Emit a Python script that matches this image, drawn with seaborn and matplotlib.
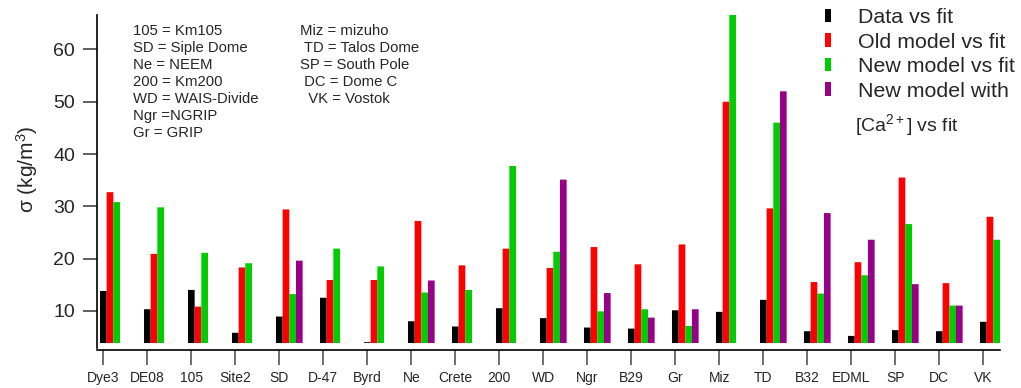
import matplotlib
matplotlib.use("Agg")
import matplotlib.pyplot as plt
import seaborn as sns
import pandas as pd
import numpy as np

nan = np.nan
sites = ["Dye3", "DE08", "105", "Site2", "SD", "D-47", "Byrd", "Ne", "Crete", "200", "WD",
         "Ngr", "B29", "Gr", "Miz", "TD", "B32", "EDML", "SP", "DC", "VK"]
data_vs_fit = [13.8, 10.3, 14.0, 5.8, 8.9, 12.5, 4.0, 8.0, 7.0, 10.5, 8.6,
               6.8, 6.6, 10.1, 9.8, 12.1, 6.1, 5.2, 6.3, 6.1, 7.9]
old_model = [32.7, 20.9, 10.8, 18.3, 29.4, 15.9, 15.9, 27.2, 18.7, 21.9, 18.2,
             22.2, 18.9, 22.7, 50.0, 29.6, 15.5, 19.3, 35.5, 15.3, 28.0]
new_model = [30.8, 29.8, 21.1, 19.1, 13.2, 21.9, 18.5, 13.5, 14.0, 37.7, 21.3,
             9.9, 10.3, 7.1, 66.6, 46.0, 13.3, 16.8, 26.6, 11.0, 23.6]
new_model_ca = [nan, nan, nan, nan, 19.6, nan, nan, 15.8, nan, nan, 35.1,
                13.4, 8.7, 10.3, nan, 52.0, 28.7, 23.6, 15.1, 11.0, 23.0]

series_names = ["Data vs fit", "Old model vs fit", "New model vs fit", "New model with"]
series_colors = ["#000000", "#FF0000", "#00CC00", "#990088"]

abbrev_left = ["105 = Km105", "SD = Siple Dome", "Ne = NEEM", "200 = Km200",
               "WD = WAIS-Divide", "Ngr =NGRIP", "Gr = GRIP"]
abbrev_right = ["Miz = mizuho", " TD = Talos Dome", "SP = South Pole", " DC = Dome C", "  VK = Vostok"]

rows = []
for name, vals in zip(series_names, [data_vs_fit, old_model, new_model, new_model_ca]):
    for s, v in zip(sites, vals):
        if not np.isnan(v):
            rows.append({"site": s, "series": name, "value": v})
df = pd.DataFrame(rows)

sns.set_style("ticks")
plt.rcParams["font.family"] = ["Liberation Sans", "DejaVu Sans"]
plt.rcParams["mathtext.fontset"] = "custom"
plt.rcParams["mathtext.rm"] = "Liberation Sans"
plt.rcParams["mathtext.it"] = "Liberation Sans"

W, H = 1021, 388
fig = plt.figure(figsize=(W / 100, H / 100), dpi=100)
ax = fig.add_axes([97.3 / W, 1 - 342.7 / H, (1000 - 97.3) / W, (342.7 - 15) / H])

total_w = 0.606
sns.barplot(data=df, x="site", y="value", hue="series", order=sites,
            hue_order=series_names, palette=series_colors, saturation=1,
            width=total_w, dodge=True, linewidth=0, edgecolor="none", ax=ax)
for p in ax.patches:
    p.set_snap(False)

bw = total_w / 4
ax.set_xticks(np.arange(len(sites)) - 1.5 * bw)
ax.set_xticklabels(sites, fontsize=12)
ax.set_xlim(-0.364, 20.152)
ax.set_ylim(3.9, 66.6)
ax.set_yticks([10, 20, 30, 40, 50, 60])
ax.tick_params(axis="y", labelsize=14, length=10, width=1.2, color="#444444", pad=6)
ax.tick_params(axis="x", length=10.5, width=1.2, color="#555555", pad=5)
ax.set_xlabel("")
ax.set_ylabel("")

for sp in ["top", "right"]:
    ax.spines[sp].set_visible(False)
ax.spines["bottom"].set_position(("outward", 5))
ax.spines["left"].set_bounds(2.94, 66.6)
for sp in ["bottom", "left"]:
    ax.spines[sp].set_linewidth(1.2)
    ax.spines[sp].set_color("black")

fig.text(27 / W, 1 - 169 / H, r"σ (kg/m$^{3}$)", rotation=90, fontsize=15,
         ha="center", va="center")

ys = [30.7, 48, 65, 82, 99.3, 116.3, 133.3]
for t, y in zip(abbrev_left, ys):
    fig.text(133.3 / W, 1 - y / H, t, fontsize=10.7, ha="left", va="center")
for t, y in zip(abbrev_right, ys):
    fig.text(299.5 / W, 1 - y / H, t, fontsize=10.7, ha="left", va="center")

handles, labels = ax.get_legend_handles_labels()
if ax.get_legend() is not None:
    ax.get_legend().remove()
leg = ax.legend(handles, labels, loc="upper left", bbox_to_anchor=(825 / W, 1 - 8 / H),
                bbox_transform=fig.transFigure, frameon=False, fontsize=15.4,
                handlelength=0.28, handleheight=0.58, handletextpad=1.27,
                labelspacing=0.26, borderpad=0, borderaxespad=0)
fig.text(855 / W, 1 - 125 / H, r"[Ca$^{2+}$] vs fit", fontsize=14, ha="left", va="center")

fig.savefig("out.png", dpi=100)
